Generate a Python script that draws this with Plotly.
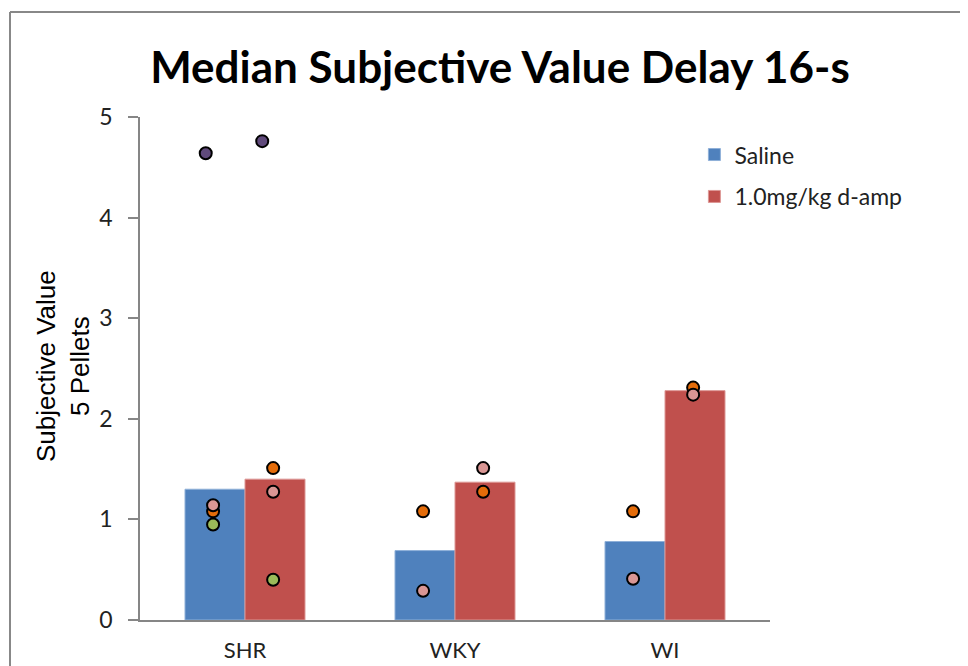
import plotly.graph_objects as go

# median subjective value per strain
categories = ["SHR", "WKY", "WI"]
saline = [1.30, 0.69, 0.78]
damp = [1.40, 1.37, 2.28]

# individual subjects (None = no point for that strain)
saline_orange = [1.08, 1.08, 1.08]
saline_green = [0.95, None, None]
saline_pink = [1.14, 0.29, 0.41]
saline_purple = [4.64, None, None]

damp_orange = [1.51, 1.275, 2.31]
damp_green = [0.40, None, None]
damp_pink = [1.275, 1.51, 2.24]
damp_purple = [4.76, None, None]

idx = list(range(len(categories)))
bar_w = 60 / 210

fig = go.Figure()

fig.add_trace(go.Bar(
    x=idx, y=saline, name="Saline", width=bar_w, offset=-bar_w,
    marker=dict(color="#4F81BD", line=dict(color="#8fb0d8", width=1)),
    legendgroup="a",
))
fig.add_trace(go.Bar(
    x=idx, y=damp, name="1.0mg/kg d-amp", width=bar_w, offset=0,
    marker=dict(color="#C0504D", line=dict(color="#dd9795", width=1)),
    legendgroup="b",
))


def dots(vals, shift, color):
    xs = [i + shift for i, v in zip(idx, vals) if v is not None]
    ys = [v for v in vals if v is not None]
    fig.add_trace(go.Scatter(
        x=xs, y=ys, mode="markers", showlegend=False, hoverinfo="skip",
        marker=dict(size=12, color=color, line=dict(color="black", width=2)),
    ))


dots(saline_orange, -0.152, "#E46C0A")
dots(saline_green, -0.152, "#9BBB59")
dots(saline_pink, -0.152, "#D99694")
dots(saline_purple, -0.187, "#604A7B")
dots(damp_orange, 0.134, "#E46C0A")
dots(damp_green, 0.134, "#9BBB59")
dots(damp_pink, 0.134, "#D99694")
dots(damp_purple, 0.082, "#604A7B")

# page body adds 8px; plot area spans 132..762 x 109..612 in figure coords
fig.update_layout(
    width=968, height=666,
    margin=dict(l=132, r=206, t=109, b=54),
    plot_bgcolor="white", paper_bgcolor="white",
    showlegend=True,
    legend=dict(x=0.88, y=0.968, xanchor="left", yanchor="top",
                font=dict(family="Lato", size=23, color="#222"),
                tracegroupgap=9, bgcolor="rgba(0,0,0,0)"),
    title=dict(text="<b>Median Subjective Value Delay 16-s</b>",
               x=492 / 968, xanchor="center", y=1 - 60 / 666, yanchor="middle",
               font=dict(family="Lato", size=44, color="black")),
    font=dict(family="Lato", size=22, color="#222"),
)

fig.update_xaxes(
    range=[-0.5, 2.5], tickvals=idx, ticktext=categories, automargin=False,
    showline=True, linecolor="#868686", linewidth=1.5,
    showgrid=False, zeroline=False, ticks="", ticklabelstandoff=10,
    tickfont=dict(family="Lato", size=22, color="#222"),
)
fig.update_yaxes(
    range=[0, 5], dtick=1, automargin=False,
    showline=True, linecolor="#868686", linewidth=1.5,
    showgrid=False, zeroline=False, ticks="outside", ticklen=10,
    tickcolor="#868686", tickwidth=1.5, ticklabelstandoff=11,
    tickfont=dict(family="Lato", size=23, color="#222"),
)

fig.add_annotation(
    text="Subjective Value<br>5 Pellets", textangle=-90,
    xref="paper", yref="paper", x=(55 - 132) / 630, y=0.505,
    xanchor="center", yanchor="middle", showarrow=False,
    font=dict(family="Liberation Sans", size=26, color="black"),
)

# outer chart frame (left and top edges visible)
fx = (2 - 132) / 630
fy = (612 - 4) / 503
fig.add_shape(type="line", xref="paper", yref="paper",
              x0=fx, x1=fx, y0=-0.2, y1=fy, line=dict(color="#888", width=2))
fig.add_shape(type="line", xref="paper", yref="paper",
              x0=fx, x1=1.5, y0=fy, y1=fy, line=dict(color="#888", width=2))

fig.write_html("out.html")
